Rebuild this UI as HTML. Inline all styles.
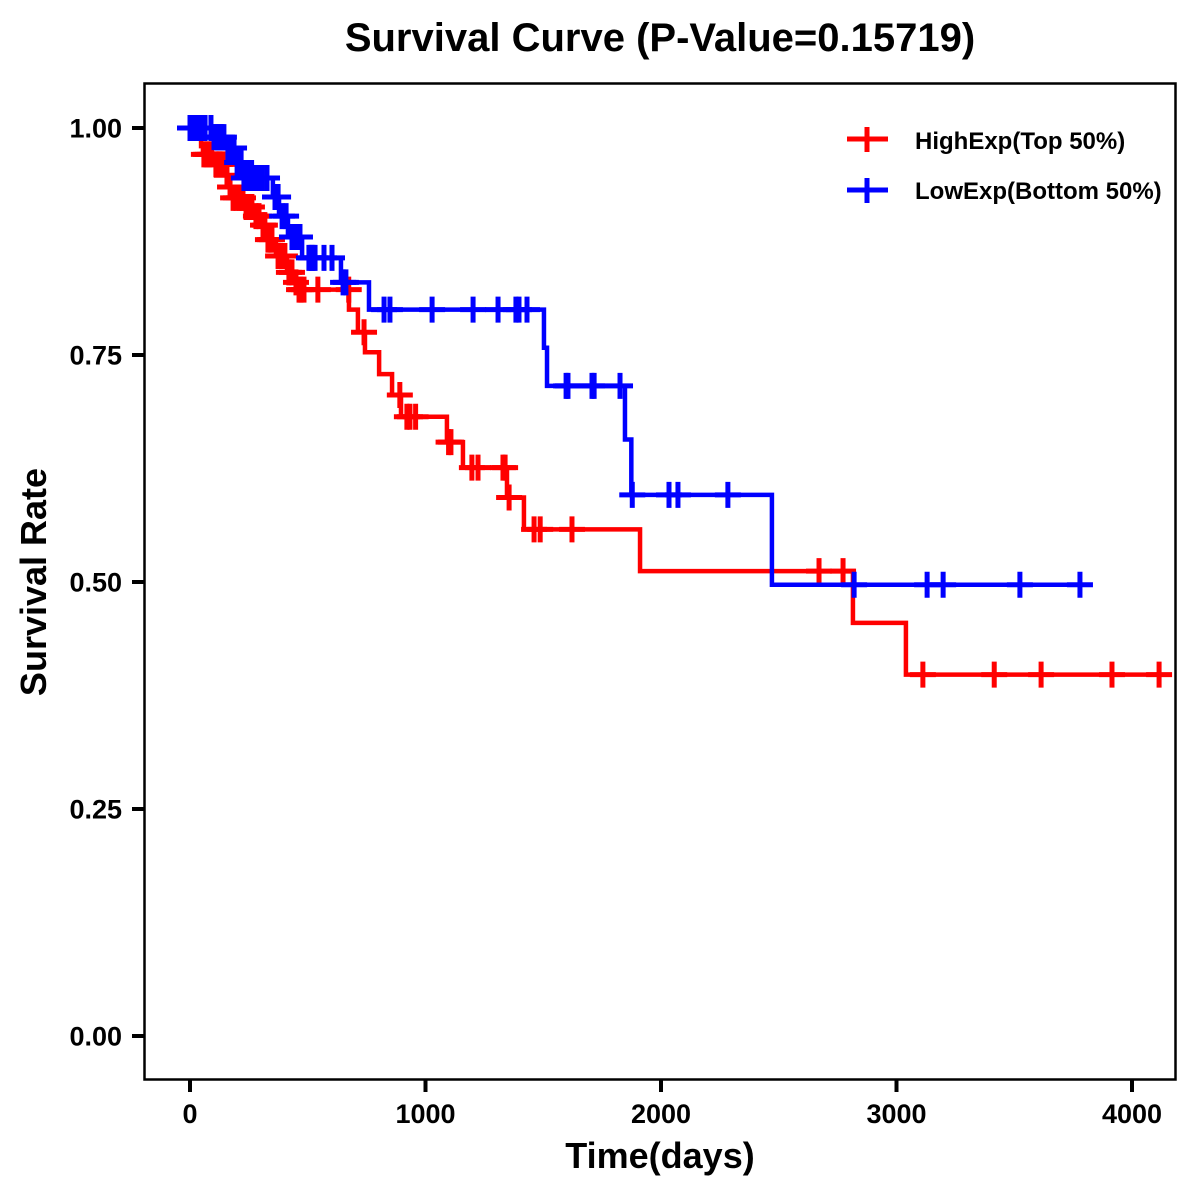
<!DOCTYPE html>
<html>
<head>
<meta charset="utf-8">
<title>Survival Curve</title>
<style>
html,body{margin:0;padding:0;background:#fff;width:1200px;height:1200px;overflow:hidden}
svg{display:block}
text{font-family:"Liberation Sans",Arial,sans-serif;font-weight:bold;fill:#000}
</style>
</head>
<body>
<svg id="chart" xmlns="http://www.w3.org/2000/svg" width="1200" height="1200" viewBox="0 0 1200 1200">
<rect x="0" y="0" width="1200" height="1200" fill="#fff"/>
<text x="660" y="51" font-size="40" text-anchor="middle">Survival Curve (P-Value=0.15719)</text>
<text x="660" y="1168" font-size="36" text-anchor="middle">Time(days)</text>
<text transform="translate(46 582) rotate(-90)" font-size="36" text-anchor="middle">Survival Rate</text>
<g id="ticks"></g>
<g id="series"></g>
<rect x="144.5" y="83.5" width="1031" height="996" fill="none" stroke="#000" stroke-width="2.5"/>
<g>
<g>
<path d="M847 139H888M867 127V152" stroke="#f00" stroke-width="5" fill="none"/>
<text x="915" y="149" font-size="24">HighExp(Top 50%)</text>
</g>
<g>
<path d="M847 190H888M867 178V203" stroke="#00f" stroke-width="5" fill="none"/>
<text x="915" y="199" font-size="24">LowExp(Bottom 50%)</text>
</g>
</g>
</svg>
<script>
const xTickValues = [0, 1000, 2000, 3000, 4000];
const xTickLabels = ['0', '1000', '2000', '3000', '4000'];
const yTickValues = [0, 0.25, 0.5, 0.75, 1];
const yTickLabels = ['0.00', '0.25', '0.50', '0.75', '1.00'];

const highStepTimes = [0, 30, 47, 55, 106, 149, 166, 178, 234, 276, 306, 323, 365, 412, 446, 459, 675, 713, 743, 803, 858, 896, 1091, 1159, 1346, 1418, 1911, 2815, 3040];
const highStepSurv = [1, 0.990, 0.980, 0.971, 0.960, 0.948, 0.935, 0.923, 0.913, 0.903, 0.893, 0.877, 0.859, 0.841, 0.830, 0.822, 0.800, 0.775, 0.753, 0.729, 0.706, 0.682, 0.654, 0.626, 0.593, 0.558, 0.512, 0.455, 0.398];
const highCensorTimes = [59, 68, 76, 85, 93, 110, 119, 127, 140, 157, 170, 183, 195, 208, 217, 225, 238, 251, 263, 280, 293, 310, 318, 331, 340, 348, 374, 382, 391, 403, 420, 433, 450, 463, 471, 484, 543, 674, 739, 891, 921, 934, 958, 1098, 1108, 1197, 1223, 1329, 1338, 1355, 1461, 1487, 1622, 2671, 2773, 3112, 3415, 3614, 3915, 4115];

const lowStepTimes = [0, 93, 153, 195, 225, 352, 378, 416, 476, 641, 760, 1503, 1516, 1847, 1874, 2471];
const lowStepSurv = [1, 0.990, 0.978, 0.962, 0.945, 0.924, 0.903, 0.880, 0.857, 0.830, 0.800, 0.758, 0.716, 0.657, 0.596, 0.497];
const lowCensorTimes = [0, 8, 21, 30, 38, 47, 55, 64, 89, 102, 110, 119, 127, 136, 144, 161, 174, 187, 200, 208, 217, 229, 242, 255, 267, 280, 293, 306, 327, 361, 374, 391, 408, 433, 446, 467, 505, 514, 522, 531, 569, 603, 650, 662, 824, 849, 1028, 1202, 1308, 1384, 1397, 1431, 1597, 1605, 1707, 1716, 1826, 1878, 2034, 2072, 2284, 2820, 3130, 3198, 3524, 3779];

const NS = 'http://www.w3.org/2000/svg';
const xAt = function (t) { return 190 + t * 0.2355; };
const yAt = function (s) { return 128 + (1 - s) * 908; };
const ticksGroup = document.getElementById('ticks');
const seriesGroup = document.getElementById('series');

function survivalAt(times, surv, t) {
  let value = surv[0];
  for (let i = 0; i < times.length; i++) {
    if (times[i] <= t) value = surv[i];
  }
  return value;
}

xTickValues.forEach(function (v, i) {
  const tick = document.createElementNS(NS, 'line');
  
  
  tick.setAttribute('x1', xAt(v));
  tick.setAttribute('x2', xAt(v));
  tick.setAttribute('y1', 1080);
  tick.setAttribute('y2', 1092);
  tick.setAttribute('stroke', '#000');
  tick.setAttribute('stroke-width', 4);
  ticksGroup.appendChild(tick);
  const label = document.createElementNS(NS, 'text');
  
  
  label.setAttribute('x', xAt(v));
  label.setAttribute('y', 1123);
  label.setAttribute('font-size', 27);
  label.setAttribute('text-anchor', 'middle');
  label.textContent = xTickLabels[i];
  ticksGroup.appendChild(label);
});

yTickValues.forEach(function (v, i) {
  const tick = document.createElementNS(NS, 'line');
  
  
  tick.setAttribute('x1', 132);
  tick.setAttribute('x2', 144);
  tick.setAttribute('y1', yAt(v));
  tick.setAttribute('y2', yAt(v));
  tick.setAttribute('stroke', '#000');
  tick.setAttribute('stroke-width', 4);
  ticksGroup.appendChild(tick);
  const label = document.createElementNS(NS, 'text');
  
  
  label.setAttribute('x', 122);
  label.setAttribute('y', yAt(v) + 9.5);
  label.setAttribute('font-size', 27);
  label.setAttribute('text-anchor', 'end');
  label.textContent = yTickLabels[i];
  ticksGroup.appendChild(label);
});

function drawSeries(times, surv, censors, color, suffix) {
  const endTime = censors[censors.length - 1];
  let d = 'M' + xAt(times[0]) + ' ' + yAt(surv[0]);
  for (let i = 1; i < times.length; i++) {
    d += 'H' + xAt(times[i]) + 'V' + yAt(surv[i]);
  }
  d += 'H' + xAt(endTime);
  const curve = document.createElementNS(NS, 'path');
  
  
  curve.setAttribute('d', d);
  curve.setAttribute('fill', 'none');
  curve.setAttribute('stroke', color);
  curve.setAttribute('stroke-width', 4.5);
  seriesGroup.appendChild(curve);
  censors.forEach(function (t) {
    const cx = xAt(t);
    const cy = yAt(survivalAt(times, surv, t));
    const mark = document.createElementNS(NS, 'path');
    
    
    mark.setAttribute('d', 'M' + (cx - 13) + ' ' + cy + 'H' + (cx + 13) + 'M' + cx + ' ' + (cy - 13) + 'V' + (cy + 13));
    mark.setAttribute('fill', 'none');
    mark.setAttribute('stroke', color);
    mark.setAttribute('stroke-width', 5);
    seriesGroup.appendChild(mark);
  });
}

drawSeries(highStepTimes, highStepSurv, highCensorTimes, '#ff0000', 'high');
drawSeries(lowStepTimes, lowStepSurv, lowCensorTimes, '#0000ff', 'low');
</script>
</body>
</html>
